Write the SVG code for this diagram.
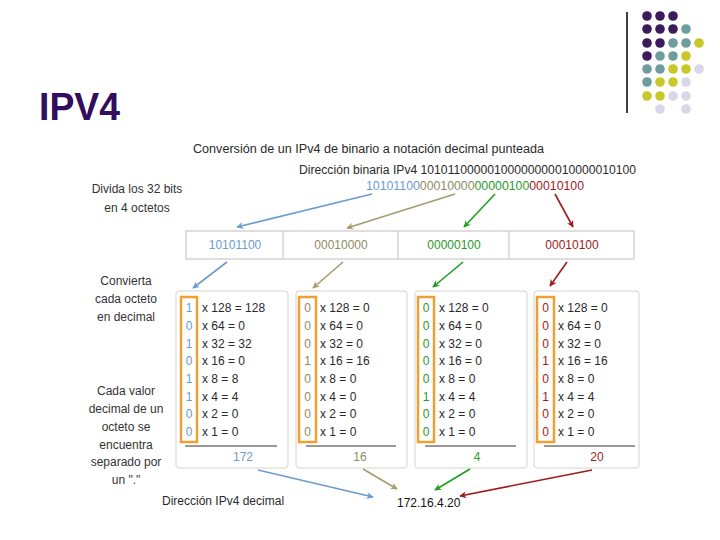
<svg xmlns="http://www.w3.org/2000/svg" width="720" height="540" viewBox="0 0 720 540">
<defs>
<style>
text{font-family:"Liberation Sans",Arial,sans-serif;font-size:12px;fill:#2a2a2a}
.lbl{text-anchor:middle;fill:#333}
.panel{fill:#fff;stroke:#d4d4d4;stroke-width:1}
.obox{fill:none;stroke:#f0a030;stroke-width:2.5}
.ul{stroke:#333;stroke-width:1.2}
.bit{text-anchor:middle}
.tot{text-anchor:middle}
.blue{fill:#6a9ccf}
.olive{fill:#8f8b62}
.green{fill:#2a9a2a}
.red{fill:#a01a1a}
.cb{stroke:#6a9ccf;fill:none;stroke-width:1.6}
.co{stroke:#a39d6e;fill:none;stroke-width:1.6}
.cg{stroke:#1f9e1f;fill:none;stroke-width:1.6}
.cr{stroke:#a01a1a;fill:none;stroke-width:1.6}
.d1{fill:#3c1a5c}.d2{fill:#6f9c9c}.d3{fill:#c9c82a}.d4{fill:#d8d8e8}
</style>
<marker id="mb" viewBox="0 0 10 10" refX="9" refY="5" markerWidth="7" markerHeight="7" orient="auto" markerUnits="userSpaceOnUse"><path d="M0,0 L10,5 L0,10 L3,5 z" fill="#6a9ccf"/></marker>
<marker id="mo" viewBox="0 0 10 10" refX="9" refY="5" markerWidth="7" markerHeight="7" orient="auto" markerUnits="userSpaceOnUse"><path d="M0,0 L10,5 L0,10 L3,5 z" fill="#a39d6e"/></marker>
<marker id="mg" viewBox="0 0 10 10" refX="9" refY="5" markerWidth="7" markerHeight="7" orient="auto" markerUnits="userSpaceOnUse"><path d="M0,0 L10,5 L0,10 L3,5 z" fill="#1f9e1f"/></marker>
<marker id="mr" viewBox="0 0 10 10" refX="9" refY="5" markerWidth="7" markerHeight="7" orient="auto" markerUnits="userSpaceOnUse"><path d="M0,0 L10,5 L0,10 L3,5 z" fill="#a01a1a"/></marker>
</defs>
<rect width="720" height="540" fill="#fff"/>

<g id="decoration">
<line x1="627" y1="12" x2="627" y2="113" stroke="#000" stroke-width="1.5"/>
<circle class="d1" cx="647" cy="16" r="4.8"/><circle class="d1" cx="660" cy="16" r="4.8"/><circle class="d1" cx="673" cy="16" r="4.8"/>
<circle class="d1" cx="647" cy="29" r="4.8"/><circle class="d1" cx="660" cy="29" r="4.8"/><circle class="d1" cx="673" cy="29" r="4.8"/><circle class="d2" cx="686" cy="29" r="4.8"/>
<circle class="d1" cx="647" cy="43" r="4.8"/><circle class="d1" cx="660" cy="43" r="4.8"/><circle class="d2" cx="673" cy="43" r="4.8"/><circle class="d2" cx="686" cy="43" r="4.8"/><circle class="d3" cx="699" cy="43" r="4.8"/>
<circle class="d1" cx="647" cy="56" r="4.8"/><circle class="d2" cx="660" cy="56" r="4.8"/><circle class="d2" cx="673" cy="56" r="4.8"/><circle class="d3" cx="686" cy="56" r="4.8"/>
<circle class="d2" cx="647" cy="69" r="4.8"/><circle class="d2" cx="660" cy="69" r="4.8"/><circle class="d3" cx="673" cy="69" r="4.8"/><circle class="d3" cx="686" cy="69" r="4.8"/><circle class="d4" cx="699" cy="69" r="4.8"/>
<circle class="d2" cx="647" cy="82" r="4.8"/><circle class="d3" cx="660" cy="82" r="4.8"/><circle class="d3" cx="673" cy="82" r="4.8"/><circle class="d4" cx="686" cy="82" r="4.8"/>
<circle class="d3" cx="647" cy="96" r="4.8"/><circle class="d3" cx="660" cy="96" r="4.8"/><circle class="d4" cx="673" cy="96" r="4.8"/><circle class="d4" cx="686" cy="96" r="4.8"/>
<circle class="d4" cx="660" cy="109" r="4.8"/><circle class="d4" cx="686" cy="109" r="4.8"/>
</g>

<g id="title">
<text x="39" y="120" textLength="81" lengthAdjust="spacingAndGlyphs" style="font-size:38px;font-weight:bold;fill:#330d5e">IPV4</text>
</g>

<g id="header">
<text x="193" y="153" textLength="351" lengthAdjust="spacingAndGlyphs">Conversión de un IPv4 de binario a notación decimal punteada</text>
<text x="299" y="174" textLength="337" lengthAdjust="spacingAndGlyphs">Dirección binaria IPv4 10101100000100000000010000010100</text>
<text x="366" y="190" textLength="218" lengthAdjust="spacingAndGlyphs"><tspan class="blue">10101100</tspan><tspan class="olive">00010000</tspan><tspan class="green">00000100</tspan><tspan class="red">00010100</tspan></text>
</g>

<g id="labels">
<text class="lbl" x="137" y="193">Divida los 32 bits</text>
<text class="lbl" x="137" y="212">en 4 octetos</text>
<text class="lbl" x="126" y="285">Convierta</text>
<text class="lbl" x="126" y="303">cada octeto</text>
<text class="lbl" x="126" y="321">en decimal</text>
<text class="lbl" x="126" y="395">Cada valor</text>
<text class="lbl" x="126" y="413">decimal de un</text>
<text class="lbl" x="126" y="431">octeto se</text>
<text class="lbl" x="126" y="449">encuentra</text>
<text class="lbl" x="126" y="466">separado por</text>
<text class="lbl" x="126" y="484">un "."</text>
</g>

<g id="octets">
<rect x="186" y="231" width="448" height="28" fill="#fff" stroke="#c8c8c8" stroke-width="1.2"/>
<line x1="283" y1="231" x2="283" y2="259" stroke="#c8c8c8" stroke-width="1.2"/>
<line x1="398" y1="231" x2="398" y2="259" stroke="#c8c8c8" stroke-width="1.2"/>
<line x1="509" y1="231" x2="509" y2="259" stroke="#c8c8c8" stroke-width="1.2"/>
<text class="tot blue" x="235" y="249">10101100</text>
<text class="tot olive" x="341" y="249">00010000</text>
<text class="tot green" x="454" y="249">00000100</text>
<text class="tot red" x="572" y="249">00010100</text>
</g>

<g id="panel-1">
<rect class="panel" x="176" y="291" width="112" height="177" rx="3"/>
<rect class="obox" x="181" y="297" width="16" height="145"/>
<text class="bit blue" x="189" y="312">1</text><text class="bit blue" x="189" y="330">0</text><text class="bit blue" x="189" y="347.5">1</text><text class="bit blue" x="189" y="365">0</text><text class="bit blue" x="189" y="383">1</text><text class="bit blue" x="189" y="400.5">1</text><text class="bit blue" x="189" y="418">0</text><text class="bit blue" x="189" y="436">0</text>
<text x="202" y="312">x 128 = 128</text><text x="202" y="330">x 64 = 0</text><text x="202" y="347.5">x 32 = 32</text><text x="202" y="365">x 16 = 0</text><text x="202" y="383">x 8 = 8</text><text x="202" y="400.5">x 4 = 4</text><text x="202" y="418">x 2 = 0</text><text x="202" y="436">x 1 = 0</text>
<line class="ul" x1="185" y1="446" x2="277" y2="446"/>
<text class="tot blue" x="243" y="461">172</text>
</g>

<g id="panel-2">
<rect class="panel" x="296" y="291" width="111" height="177" rx="3"/>
<rect class="obox" x="299" y="297" width="17" height="145"/>
<text class="bit olive" x="307.5" y="312">0</text><text class="bit olive" x="307.5" y="330">0</text><text class="bit olive" x="307.5" y="347.5">0</text><text class="bit olive" x="307.5" y="365">1</text><text class="bit olive" x="307.5" y="383">0</text><text class="bit olive" x="307.5" y="400.5">0</text><text class="bit olive" x="307.5" y="418">0</text><text class="bit olive" x="307.5" y="436">0</text>
<text x="320" y="312">x 128 = 0</text><text x="320" y="330">x 64 = 0</text><text x="320" y="347.5">x 32 = 0</text><text x="320" y="365">x 16 = 16</text><text x="320" y="383">x 8 = 0</text><text x="320" y="400.5">x 4 = 0</text><text x="320" y="418">x 2 = 0</text><text x="320" y="436">x 1 = 0</text>
<line class="ul" x1="306" y1="446" x2="396" y2="446"/>
<text class="tot olive" x="360" y="461">16</text>
</g>

<g id="panel-3">
<rect class="panel" x="415" y="291" width="112" height="177" rx="3"/>
<rect class="obox" x="418" y="297" width="16" height="145"/>
<text class="bit green" x="426" y="312">0</text><text class="bit green" x="426" y="330">0</text><text class="bit green" x="426" y="347.5">0</text><text class="bit green" x="426" y="365">0</text><text class="bit green" x="426" y="383">0</text><text class="bit green" x="426" y="400.5">1</text><text class="bit green" x="426" y="418">0</text><text class="bit green" x="426" y="436">0</text>
<text x="439" y="312">x 128 = 0</text><text x="439" y="330">x 64 = 0</text><text x="439" y="347.5">x 32 = 0</text><text x="439" y="365">x 16 = 0</text><text x="439" y="383">x 8 = 0</text><text x="439" y="400.5">x 4 = 4</text><text x="439" y="418">x 2 = 0</text><text x="439" y="436">x 1 = 0</text>
<line class="ul" x1="425" y1="446" x2="516" y2="446"/>
<text class="tot green" x="477" y="461">4</text>
</g>

<g id="panel-4">
<rect class="panel" x="534" y="291" width="105" height="177" rx="3"/>
<rect class="obox" x="537" y="297" width="17" height="145"/>
<text class="bit red" x="545.5" y="312">0</text><text class="bit red" x="545.5" y="330">0</text><text class="bit red" x="545.5" y="347.5">0</text><text class="bit red" x="545.5" y="365">1</text><text class="bit red" x="545.5" y="383">0</text><text class="bit red" x="545.5" y="400.5">1</text><text class="bit red" x="545.5" y="418">0</text><text class="bit red" x="545.5" y="436">0</text>
<text x="558" y="312">x 128 = 0</text><text x="558" y="330">x 64 = 0</text><text x="558" y="347.5">x 32 = 0</text><text x="558" y="365">x 16 = 16</text><text x="558" y="383">x 8 = 0</text><text x="558" y="400.5">x 4 = 4</text><text x="558" y="418">x 2 = 0</text><text x="558" y="436">x 1 = 0</text>
<line class="ul" x1="544" y1="446" x2="635" y2="446"/>
<text class="tot red" x="597" y="461">20</text>
</g>

<g id="result">
<text x="162" y="505">Dirección IPv4 decimal</text>
<text x="397" y="507" style="fill:#111">172.16.4.20</text>
</g>

<g id="connectors">
<line class="cb" x1="372" y1="194" x2="237" y2="227" marker-end="url(#mb)"/>
<line class="co" x1="455" y1="194" x2="347" y2="228" marker-end="url(#mo)"/>
<line class="cg" x1="495" y1="194" x2="464" y2="227" marker-end="url(#mg)"/>
<line class="cr" x1="555" y1="194" x2="573" y2="227" marker-end="url(#mr)"/>
<line class="cb" x1="227" y1="262" x2="193" y2="288" marker-end="url(#mb)"/>
<line class="co" x1="343" y1="262" x2="313" y2="288" marker-end="url(#mo)"/>
<line class="cg" x1="463" y1="262" x2="433" y2="287" marker-end="url(#mg)"/>
<line class="cr" x1="567" y1="262" x2="550" y2="286" marker-end="url(#mr)"/>
<line class="cb" x1="258" y1="470" x2="373" y2="497" marker-end="url(#mb)"/>
<line class="co" x1="363" y1="469" x2="397" y2="489" marker-end="url(#mo)"/>
<line class="cg" x1="470" y1="469" x2="435" y2="490" marker-end="url(#mg)"/>
<line class="cr" x1="592" y1="470" x2="460" y2="496" marker-end="url(#mr)"/>
</g>
</svg>
